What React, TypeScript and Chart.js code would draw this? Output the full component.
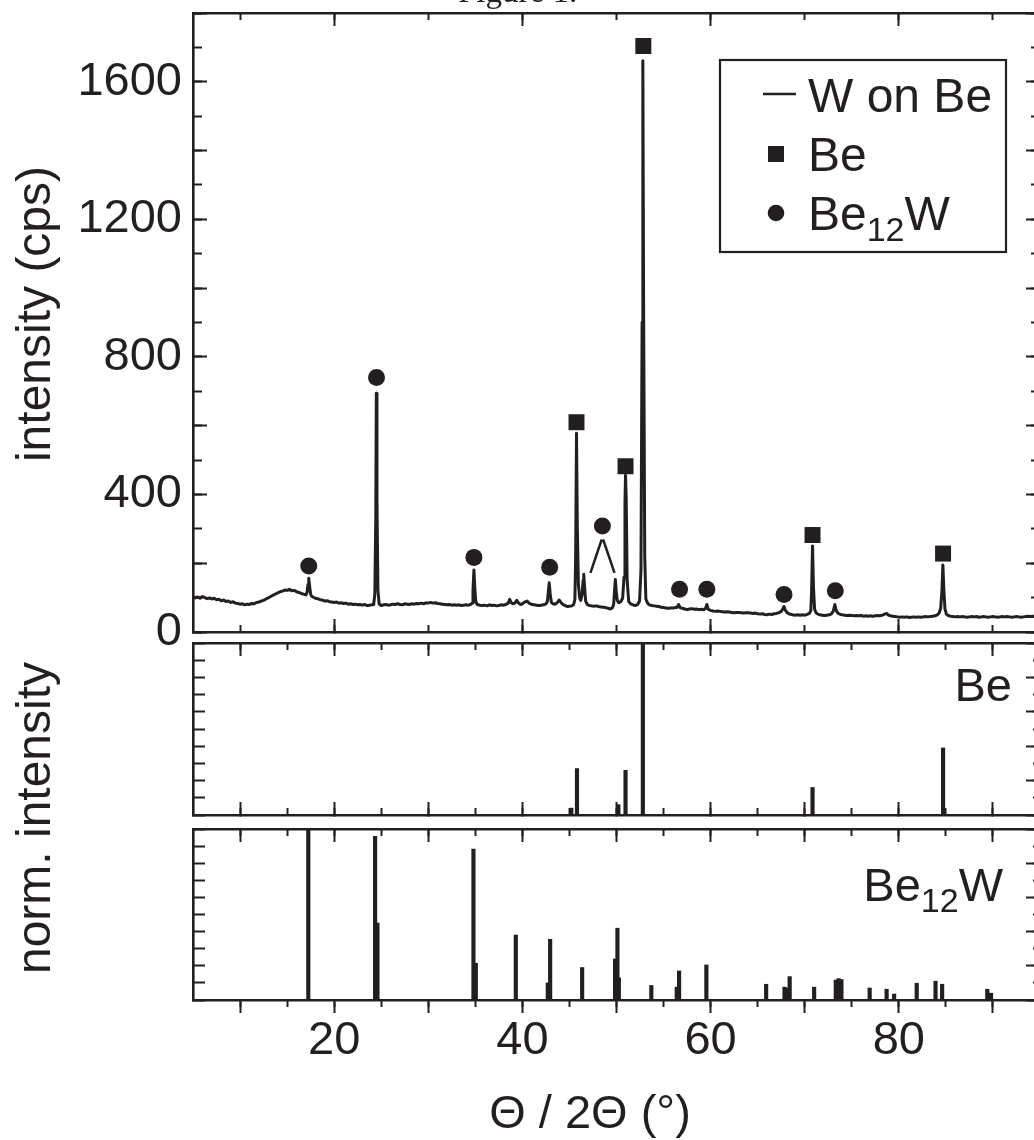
import React, { useEffect, useRef } from 'react';
import { Chart, registerables } from 'chart.js';

Chart.register(...registerables);

// ---------------- data ----------------
const X_MIN = 5;
const X_MAX = 95;
const MAIN_Y_MAX = 1800;
const MAIN_Y_LABELS = [0, 400, 800, 1200, 1600];
const X_LABELS = [20, 40, 60, 80];

// measured pattern "W on Be": [2theta, cps]
const SPECTRUM: [number, number][] = [
  [5, 103], [5.25, 99], [5.5, 102], [5.75, 98], [6, 103], [6.25, 100], [6.5, 97], [6.75, 99], [7, 96], [7.25, 98],
  [7.5, 94], [7.75, 95], [8, 91], [8.25, 93], [8.5, 89], [8.75, 90], [9, 86], [9.25, 88], [9.5, 84], [9.75, 83],
  [10, 81], [10.25, 82], [10.5, 79], [10.75, 81], [11, 80], [11.25, 83], [11.5, 82], [11.75, 86], [12, 87], [12.25, 90],
  [12.5, 92], [12.75, 96], [13, 99], [13.25, 103], [13.5, 107], [13.75, 110], [14, 114], [14.25, 117], [14.5, 119], [14.75, 122],
  [15, 121], [15.25, 124], [15.5, 120], [15.75, 121], [16, 117], [16.25, 115], [16.5, 112], [16.75, 110], [17, 108],
  [17.12, 115], [17.22, 138], [17.3, 156], [17.38, 136], [17.5, 110], [17.6, 104],
  [17.8, 101], [18, 98], [18.25, 97], [18.5, 94], [18.75, 93], [19, 90], [19.25, 91], [19.5, 88], [19.75, 87], [20, 86],
  [20.25, 87], [20.5, 84], [20.75, 85], [21, 83], [21.25, 84], [21.5, 81], [21.75, 82], [22, 80], [22.25, 81], [22.5, 79],
  [22.75, 80], [23, 78], [23.25, 80], [23.5, 77], [23.75, 78], [24, 79], [24.2, 80],
  [24.32, 110], [24.42, 330], [24.48, 694], [24.55, 380], [24.65, 120], [24.78, 82],
  [25, 77], [25.25, 79], [25.5, 80], [25.75, 78], [26, 79], [26.25, 81], [26.5, 80], [26.75, 82], [27, 80], [27.25, 79],
  [27.5, 82], [27.75, 81], [28, 80], [28.25, 82], [28.5, 81], [28.75, 83], [29, 82], [29.25, 84], [29.5, 82], [29.75, 85],
  [30, 84], [30.25, 86], [30.5, 84], [30.75, 85], [31, 83], [31.25, 82], [31.5, 81], [31.75, 80], [32, 79], [32.25, 80],
  [32.5, 78], [32.75, 79], [33, 78], [33.25, 79], [33.5, 77], [33.75, 78], [34, 79], [34.25, 78], [34.5, 80], [34.65, 84],
  [34.75, 120], [34.85, 180], [34.95, 125], [35.05, 88], [35.2, 80],
  [35.5, 78], [35.75, 77], [36, 78], [36.25, 76], [36.5, 79], [36.75, 77], [37, 78], [37.25, 76], [37.5, 77], [37.75, 79],
  [38, 78], [38.25, 80], [38.5, 84], [38.65, 95], [38.8, 86], [39, 82], [39.2, 84], [39.4, 92], [39.6, 84], [39.8, 80],
  [40, 82], [40.25, 87], [40.5, 90], [40.7, 84], [41, 80], [41.25, 79], [41.5, 78], [41.75, 77], [42, 78], [42.25, 79],
  [42.5, 82], [42.65, 88], [42.75, 115], [42.85, 143], [42.95, 112], [43.08, 86],
  [43.25, 82], [43.5, 81], [43.7, 85], [43.9, 93], [44.1, 86], [44.3, 80], [44.55, 77], [44.8, 74], [45, 75], [45.25, 76],
  [45.45, 80], [45.58, 95], [45.66, 220], [45.75, 578], [45.84, 300], [45.95, 140], [46.08, 100], [46.2, 92],
  [46.35, 110], [46.45, 150], [46.52, 168], [46.6, 135], [46.72, 90],
  [46.9, 80], [47.1, 77], [47.35, 76], [47.6, 75], [47.85, 76], [48.1, 74], [48.35, 73], [48.6, 72], [48.85, 71], [49.1, 69],
  [49.35, 67], [49.55, 70], [49.7, 80], [49.8, 125], [49.88, 153], [49.96, 122], [50.08, 92],
  [50.25, 85], [50.45, 88], [50.65, 98], [50.8, 160], [50.9, 380], [50.96, 456], [51.03, 390], [51.13, 150], [51.3, 88],
  [51.5, 82], [51.75, 79], [52, 77], [52.25, 80], [52.45, 90], [52.6, 180], [52.72, 900], [52.8, 1661], [52.88, 950], [53.0, 220],
  [53.12, 96], [53.3, 84], [53.5, 79], [53.75, 77], [54, 76], [54.25, 75], [54.5, 74], [54.75, 72], [55, 71], [55.25, 70],
  [55.5, 69], [55.75, 70], [56, 70], [56.25, 71], [56.45, 72], [56.6, 80], [56.75, 71], [57, 69], [57.25, 67], [57.5, 65],
  [57.75, 67], [58, 68], [58.25, 66], [58.5, 67], [58.75, 65], [59, 66], [59.25, 65], [59.45, 68], [59.6, 80], [59.75, 66],
  [60, 63], [60.25, 61], [60.5, 60], [60.75, 61], [61, 60], [61.25, 59], [61.5, 58], [61.75, 59], [62, 58], [62.25, 57],
  [62.5, 56], [62.75, 57], [63, 57], [63.25, 56], [63.5, 55], [63.75, 56], [64, 56], [64.25, 55], [64.5, 54], [64.75, 55],
  [65, 53], [65.25, 52], [65.5, 53], [65.75, 51], [66, 50], [66.25, 52], [66.5, 51], [66.75, 53], [67, 54], [67.25, 56],
  [67.5, 60], [67.65, 66], [67.8, 74], [67.95, 63], [68.15, 56], [68.4, 52], [68.7, 50], [69, 49], [69.25, 50], [69.5, 49],
  [69.75, 50], [70, 49], [70.25, 51], [70.5, 54], [70.65, 62], [70.73, 120], [70.83, 250], [70.93, 130], [71.05, 66], [71.2, 56],
  [71.4, 52], [71.6, 50], [71.85, 49], [72.1, 48], [72.35, 49], [72.6, 50], [72.85, 53], [73.05, 62], [73.2, 80], [73.35, 62],
  [73.55, 54], [73.8, 51], [74, 50], [74.25, 49], [74.5, 48], [74.75, 49], [75, 48], [75.25, 47], [75.5, 48], [75.75, 47],
  [76, 48], [76.25, 46], [76.5, 47], [76.75, 46], [77, 47], [77.25, 46], [77.5, 47], [77.75, 48], [78, 47], [78.25, 49],
  [78.5, 52], [78.7, 54], [78.9, 49], [79.1, 47], [79.35, 46], [79.6, 45], [79.85, 44], [80.1, 43], [80.35, 44], [80.6, 43],
  [80.85, 44], [81.1, 42], [81.35, 43], [81.6, 44], [81.85, 43], [82.1, 44], [82.35, 43], [82.6, 44], [82.85, 45], [83.1, 44],
  [83.35, 45], [83.6, 46], [83.85, 47], [84.1, 50], [84.3, 56], [84.45, 70], [84.58, 120], [84.68, 195], [84.78, 125], [84.9, 68],
  [85.05, 52], [85.25, 48], [85.5, 46], [85.75, 45], [86, 44], [86.25, 45], [86.5, 44], [86.75, 45], [87, 44], [87.25, 43],
  [87.5, 44], [87.75, 45], [88, 44], [88.25, 45], [88.5, 43], [88.75, 44], [89, 45], [89.25, 44], [89.5, 43], [89.75, 44],
  [90, 45], [90.25, 44], [90.5, 43], [90.75, 44], [91, 45], [91.25, 44], [91.5, 45], [91.75, 44], [92, 43], [92.25, 44],
  [92.5, 45], [92.75, 44], [93, 43], [93.25, 44], [93.5, 45], [93.75, 46], [94, 45], [94.25, 46], [94.5, 45], [94.75, 46],
  [95, 46],
];

// peak markers
const BE_MARK_X = [45.75, 50.96, 52.85, 70.83, 84.7];
const BE_MARK_Y = [610, 482, 1704, 282, 228];
const W_MARK_X = [17.3, 24.5, 34.85, 42.9, 48.5, 56.7, 59.6, 67.8, 73.25];
const W_MARK_Y = [192, 740, 217, 188, 308, 124, 124, 109, 120];
// two strokes from the marker at 48.5 down to the peaks at 46.5 and 49.9
const POINTER_X = [47.23, 48.43, 48.5, 48.58, 49.79];
const POINTER_Y: (number | null)[] = [172, 269, null, 269, 172];

// reference patterns (normalised intensity)
const BE_REF_X = [45.2, 45.8, 50.2, 50.96, 52.8, 70.83, 84.7];
const BE_REF_H = [0.04, 0.27, 0.06, 0.26, 1.0, 0.16, 0.39];
const W_REF_X = [
  17.25, 24.35, 24.6, 34.8, 35.05, 39.3, 42.7, 42.95, 46.35, 49.85, 50.1, 50.25, 53.7, 56.4, 56.65, 59.55,
  65.9, 67.85, 68.05, 68.4, 71.0, 73.3, 73.6, 73.9, 76.9, 78.7, 79.5, 81.9, 83.9, 84.6, 89.4, 89.8,
];
const W_REF_H = [
  1.0, 0.957, 0.45, 0.883, 0.215, 0.38, 0.1, 0.355, 0.19, 0.24, 0.42, 0.13, 0.085, 0.075, 0.17, 0.205,
  0.092, 0.075, 0.07, 0.137, 0.075, 0.117, 0.125, 0.12, 0.07, 0.063, 0.035, 0.098, 0.11, 0.092, 0.063, 0.04,
];

// ---------------- style / layout ----------------
const INK = '#231f20';
const FONT = '"Liberation Sans", Arial, Helvetica, sans-serif';
const SERIF = '"Liberation Serif", "Times New Roman", serif';
const CW = 1048;
const CH = 1140;
const PLOT_LEFT = 193;
const PLOT_RIGHT = 1040;

const range = (a: number, b: number, s: number) => {
  const out: number[] = [];
  for (let i = 0; a + i * s <= b + 1e-9; i++) out.push(Math.round((a + i * s) * 1000) / 1000);
  return out;
};

type Pos = 'left' | 'right' | 'top' | 'bottom';

function mkAxis(
  position: Pos,
  min: number,
  max: number,
  values: number[],
  tickLen: number,
  border: boolean,
  labels: number[] = [],
  labelPad = 0,
  boxSize = 0,
) {
  const vertical = position === 'left' || position === 'right';
  return {
    type: 'linear',
    position,
    axis: vertical ? 'y' : 'x',
    min,
    max,
    offset: false,
    weight: boxSize > 0 ? 1 : 0,
    afterBuildTicks: (s: any) => {
      s.ticks = values.map((v) => ({ value: v }));
    },
    afterFit: (s: any) => {
      if (vertical) s.width = boxSize;
      else s.height = boxSize;
      s.paddingTop = 0;
      s.paddingBottom = 0;
      s.paddingLeft = 0;
      s.paddingRight = 0;
    },
    border: { display: border, color: INK, width: 2.6 },
    grid: {
      display: true,
      drawOnChartArea: false,
      drawTicks: true,
      tickLength: tickLen,
      tickWidth: 2,
      tickColor: INK,
      color: INK,
      offset: false,
    },
    ticks: {
      display: labels.length > 0,
      autoSkip: false,
      maxRotation: 0,
      minRotation: 0,
      padding: labelPad,
      color: INK,
      font: { family: FONT, size: 47 },
      callback: (v: any) => (labels.includes(Number(v)) ? String(v) : ''),
    },
  };
}

function lowerScales(bottomOutward: boolean) {
  const s = bottomOutward ? 1 : -1;
  return {
    x: mkAxis('bottom', X_MIN, X_MAX, range(10, 90, 10), 13 * s, true, bottomOutward ? X_LABELS : [], 0, bottomOutward ? CH - 1000 : 0),
    xMinor: mkAxis('bottom', X_MIN, X_MAX, range(10, 90, 5), 7 * s, false),
    xTop: mkAxis('top', X_MIN, X_MAX, range(10, 90, 10), -13, true),
    xTopMinor: mkAxis('top', X_MIN, X_MAX, range(10, 90, 5), -7, false),
    y: mkAxis('left', 0, 1, range(0, 1, 0.1), -12, true),
    yRight: mkAxis('right', 0, 1, range(0, 1, 0.2), -14, true),
    yRightMinor: mkAxis('right', 0, 1, range(0, 1, 0.1), -7, false),
  };
}

function baseOptions(pad: { left: number; right: number; top: number; bottom: number }, scales: any) {
  return {
    responsive: false,
    maintainAspectRatio: false,
    animation: false as const,
    devicePixelRatio: 1,
    events: [] as any[],
    layout: { autoPadding: false, padding: pad },
    plugins: { legend: { display: false }, tooltip: { enabled: false }, title: { display: false } },
    scales,
  };
}

function drawRotated(ctx: CanvasRenderingContext2D, text: string, x: number, y: number) {
  ctx.save();
  ctx.translate(x, y);
  ctx.rotate(-Math.PI / 2);
  ctx.textAlign = 'center';
  ctx.textBaseline = 'alphabetic';
  ctx.fillText(text, 0, 0);
  ctx.restore();
}

// "Be12W" with subscript
function drawBe12W(ctx: CanvasRenderingContext2D, xRef: number, baseline: number, size: number, subSize: number, rightAligned: boolean) {
  ctx.save();
  ctx.textAlign = 'left';
  ctx.textBaseline = 'alphabetic';
  ctx.font = `${size}px ${FONT}`;
  const wBe = ctx.measureText('Be').width;
  const wW = ctx.measureText('W').width;
  ctx.font = `${subSize}px ${FONT}`;
  const w12 = ctx.measureText('12').width;
  let x = rightAligned ? xRef - (wBe + w12 + wW) : xRef;
  ctx.font = `${size}px ${FONT}`;
  ctx.fillText('Be', x, baseline);
  x += wBe;
  ctx.font = `${subSize}px ${FONT}`;
  ctx.fillText('12', x, baseline + 11);
  x += w12;
  ctx.font = `${size}px ${FONT}`;
  ctx.fillText('W', x, baseline);
  ctx.restore();
}

const mainDecor = {
  id: 'mainDecor',
  afterDraw(chart: any) {
    const ctx: CanvasRenderingContext2D = chart.ctx;
    ctx.save();
    ctx.fillStyle = INK;
    ctx.strokeStyle = INK;
    // cut-off caption at the very top
    ctx.font = `33px ${SERIF}`;
    ctx.textAlign = 'left';
    ctx.textBaseline = 'alphabetic';
    ctx.fillText('Figure 1.', 458, 2);
    // y title
    ctx.font = `48px ${FONT}`;
    drawRotated(ctx, 'intensity (cps)', 50, 314);
    // legend
    ctx.lineWidth = 2.2;
    ctx.strokeRect(720, 60, 286, 192);
    ctx.lineWidth = 2.5;
    ctx.beginPath();
    ctx.moveTo(763, 94);
    ctx.lineTo(796, 94);
    ctx.stroke();
    ctx.font = `48px ${FONT}`;
    ctx.textAlign = 'left';
    ctx.fillText('W on Be', 808, 112);
    ctx.fillRect(768, 146, 16, 16);
    ctx.fillText('Be', 808, 171);
    ctx.beginPath();
    ctx.arc(776, 213, 8.3, 0, Math.PI * 2);
    ctx.fill();
    drawBe12W(ctx, 808, 230, 48, 34, false);
    ctx.restore();
  },
};

const beDecor = {
  id: 'beDecor',
  afterDraw(chart: any) {
    const ctx: CanvasRenderingContext2D = chart.ctx;
    ctx.save();
    ctx.fillStyle = INK;
    ctx.font = `47px ${FONT}`;
    ctx.textAlign = 'right';
    ctx.textBaseline = 'alphabetic';
    ctx.fillText('Be', 1012, 701);
    ctx.restore();
  },
};

const wDecor = {
  id: 'wDecor',
  afterDraw(chart: any) {
    const ctx: CanvasRenderingContext2D = chart.ctx;
    ctx.save();
    ctx.fillStyle = INK;
    drawBe12W(ctx, 1003, 901, 47, 34, true);
    ctx.font = `48px ${FONT}`;
    drawRotated(ctx, 'norm. intensity', 50, 818);
    ctx.font = `47px ${FONT}`;
    ctx.textAlign = 'center';
    ctx.textBaseline = 'alphabetic';
    ctx.fillText('\u0398 / 2\u0398 (\u00b0)', 590, 1128);
    ctx.restore();
  },
};

export default function App() {
  const mainRef = useRef<HTMLCanvasElement>(null);
  const beRef = useRef<HTMLCanvasElement>(null);
  const wRef = useRef<HTMLCanvasElement>(null);

  useEffect(() => {
    document.body.style.margin = '0';
    const charts: Chart[] = [];

    const mainScales = {
      x: mkAxis('bottom', X_MIN, X_MAX, range(20, 80, 20), -13, true),
      xMinor: mkAxis('bottom', X_MIN, X_MAX, range(10, 90, 10), -7, false),
      xTop: mkAxis('top', X_MIN, X_MAX, range(20, 80, 20), -13, true),
      xTopMinor: mkAxis('top', X_MIN, X_MAX, range(10, 90, 10), -7, false),
      y: mkAxis('left', 0, MAIN_Y_MAX, range(0, 1800, 200), -14, true, MAIN_Y_LABELS, 25, PLOT_LEFT),
      yMinor: mkAxis('left', 0, MAIN_Y_MAX, range(0, 1800, 100), -9, false),
      yRight: mkAxis('right', 0, MAIN_Y_MAX, range(0, 1800, 200), -14, true),
      yRightMinor: mkAxis('right', 0, MAIN_Y_MAX, range(0, 1800, 100), -9, false),
    };

    charts.push(
      new Chart(mainRef.current as HTMLCanvasElement, {
        type: 'line',
        data: {
          datasets: [
            {
              label: 'W on Be',
              data: SPECTRUM.map(([x, y]) => ({ x, y })),
              borderColor: INK,
              borderWidth: 3,
              pointRadius: 0,
              tension: 0,
              fill: false,
              borderJoinStyle: 'round',
              borderCapStyle: 'round',
            },
            {
              label: 'Be',
              data: BE_MARK_X.map((x, i) => ({ x, y: BE_MARK_Y[i] })),
              showLine: false,
              pointStyle: 'rect',
              pointRadius: 11.3,
              backgroundColor: INK,
              borderWidth: 0,
            },
            {
              label: 'Be12W',
              data: W_MARK_X.map((x, i) => ({ x, y: W_MARK_Y[i] })),
              showLine: false,
              pointStyle: 'circle',
              pointRadius: 8.5,
              backgroundColor: INK,
              borderWidth: 0,
            },
            {
              label: 'pointer',
              data: POINTER_X.map((x, i) => ({ x, y: POINTER_Y[i] })),
              borderColor: INK,
              borderWidth: 2.5,
              pointRadius: 0,
              spanGaps: false,
              tension: 0,
            },
          ],
        } as any,
        options: baseOptions({ left: 0, right: CW - PLOT_RIGHT, top: 13, bottom: CH - 632 }, mainScales) as any,
        plugins: [mainDecor],
      }),
    );

    charts.push(
      new Chart(beRef.current as HTMLCanvasElement, {
        type: 'bar',
        data: {
          datasets: [
            {
              label: 'Be',
              data: BE_REF_X.map((x, i) => ({ x, y: BE_REF_H[i] })),
              backgroundColor: INK,
              borderWidth: 0,
              barThickness: 3.5,
              grouped: false,
            },
          ],
        } as any,
        options: baseOptions({ left: PLOT_LEFT, right: CW - PLOT_RIGHT, top: 643, bottom: CH - 815 }, lowerScales(false)) as any,
        plugins: [beDecor],
      }),
    );

    charts.push(
      new Chart(wRef.current as HTMLCanvasElement, {
        type: 'bar',
        data: {
          datasets: [
            {
              label: 'Be12W',
              data: W_REF_X.map((x, i) => ({ x, y: W_REF_H[i] })),
              backgroundColor: INK,
              borderWidth: 0,
              barThickness: 3.5,
              grouped: false,
            },
          ],
        } as any,
        options: baseOptions({ left: PLOT_LEFT, right: CW - PLOT_RIGHT, top: 829, bottom: 0 }, lowerScales(true)) as any,
        plugins: [wDecor],
      }),
    );

    return () => charts.forEach((c) => c.destroy());
  }, []);

  const cv: React.CSSProperties = { position: 'absolute', left: 0, top: 0, width: CW, height: CH };
  return (
    <div style={{ position: 'fixed', left: 0, top: 0, width: 1034, height: 1140, overflow: 'hidden', background: '#fff' }}>
      <canvas ref={mainRef} width={CW} height={CH} style={cv} />
      <canvas ref={beRef} width={CW} height={CH} style={cv} />
      <canvas ref={wRef} width={CW} height={CH} style={cv} />
    </div>
  );
}
